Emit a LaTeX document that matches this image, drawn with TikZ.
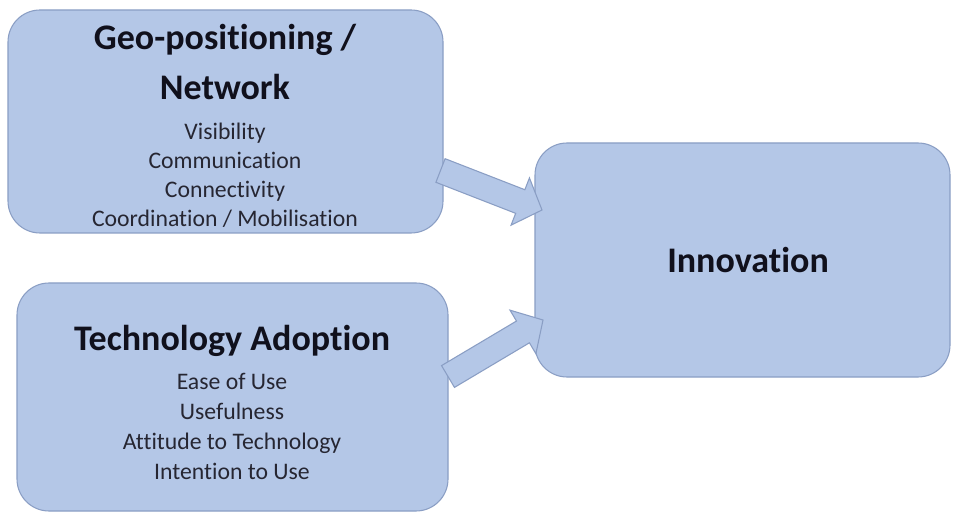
\documentclass[tikz,border=0pt]{standalone}
\usepackage{fontspec}
\setmainfont{Carlito}[Ligatures=NoCommon]
\usetikzlibrary{calc}
\definecolor{boxfill}{RGB}{180,199,231}
\definecolor{boxline}{RGB}{138,158,196}
\definecolor{ink}{RGB}{16,16,28}
\definecolor{bodyink}{RGB}{38,38,50}

% fat block arrow from tail coordinate #1 to tip coordinate #2
\newcommand\blockarrow[2]{%
  \coordinate (#1base) at ($(#2)!17.5pt!(#1)$);
  \draw[fatarrow]
    ($(#1)!9.5pt!90:(#2)$) -- ($(#1base)!9.5pt!90:(#2)$) --
    ($(#1base)!19pt!90:(#2)$) -- (#2) --
    ($(#1base)!19pt!-90:(#2)$) -- ($(#1base)!9.5pt!-90:(#2)$) --
    ($(#1)!9.5pt!-90:(#2)$) -- cycle;
}

\begin{document}
\begin{tikzpicture}[x=0.75pt,y=-0.75pt,
  box/.style={draw=boxline, fill=boxfill, line width=0.8pt,
    rounded corners=24pt, inner sep=0pt},
  headtext/.style={font=\fontsize{27}{30}\selectfont\bfseries,
    text=ink, anchor=base, inner sep=0pt},
  itemtext/.style={font=\fontsize{17.8}{20}\selectfont,
    text=bodyink, anchor=base, inner sep=0pt},
  fatarrow/.style={draw=boxline, fill=boxfill, line width=0.8pt,
    line join=miter}]
\useasboundingbox (0,0) rectangle (959,516);
\fill[white] (0,0) rectangle (959,516);

% the three boxes
\node[box, minimum width=326.25pt, minimum height=167.25pt] (geo) at (225.5,121.5) {};
\node[box, minimum width=323.25pt, minimum height=171pt] (tech) at (232.5,397) {};
\node[box, minimum width=311.25pt, minimum height=175.5pt] (innov) at (742.5,260) {};

% Geo-positioning / Network
\node[headtext] (geoT1) at (225,50) {Geo-positioning /};
\node[headtext] (geoT2) at (225,100) {Network};
\node[itemtext] (geoI1) at (225,140) {Visibility};
\node[itemtext] (geoI2) at (225,169) {Communication};
\node[itemtext] (geoI3) at (225,198) {Connectivity};
\node[itemtext] (geoI4) at (225,227) {Coordination / Mobilisation};

% Technology Adoption
\node[headtext] (techT) at (232,350) {Technology Adoption};
\node[itemtext] (techI1) at (232,389) {Ease of Use};
\node[itemtext] (techI2) at (232,419) {Usefulness};
\node[itemtext] (techI3) at (232,449) {Attitude to Technology};
\node[itemtext] (techI4) at (232,479) {Intention to Use};

% Innovation
\node[headtext] (innovT) at (748,273) {Innovation};

% arrows
\coordinate (upT) at (440.5,170.5);
\coordinate (upH) at (542,210);
\coordinate (loT) at (448,376.5);
\coordinate (loH) at (543,320);
\blockarrow{upT}{upH}
\blockarrow{loT}{loH}
\end{tikzpicture}
\end{document}
